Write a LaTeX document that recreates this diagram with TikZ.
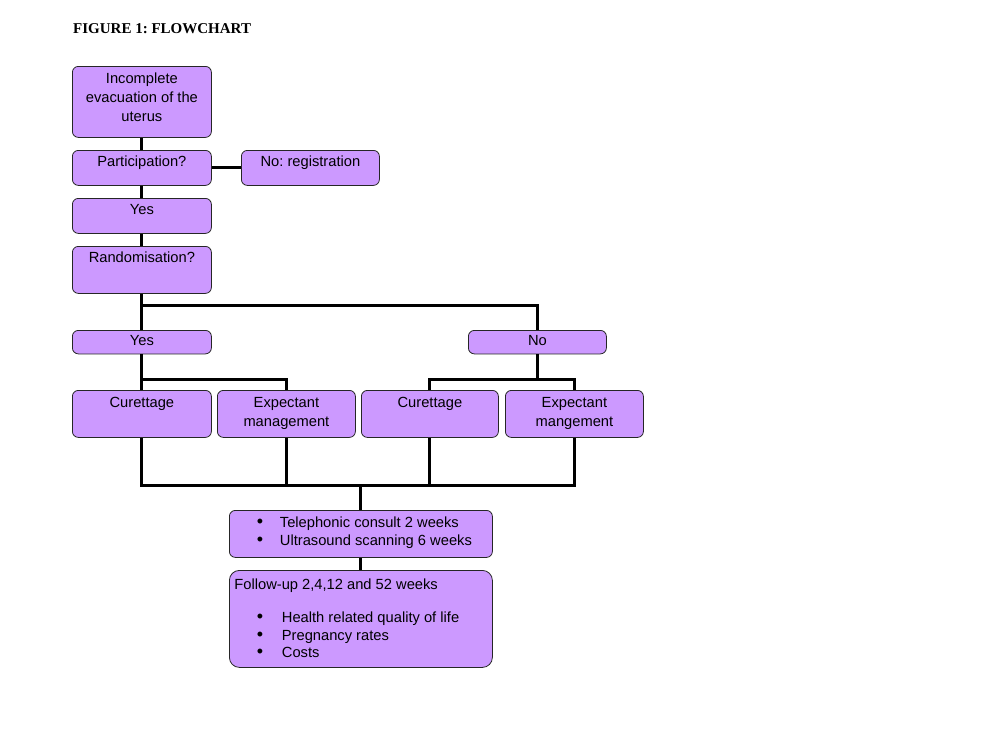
\documentclass[tikz,border=0pt]{standalone}
\usepackage{fontspec}
\setmainfont{Liberation Sans}
\newfontfamily\titlefont{Liberation Serif}
\frenchspacing
\definecolor{boxfill}{RGB}{204,153,255}
\newcommand\bxc[4][16.5pt]{\parbox[b][#3][t]{#2}{\centering\rule{0pt}{#1}#4\par}}
\newcommand\bul{{\fontsize{18}{18}\selectfont\textbullet}}
\tikzset{
  box/.style={draw=black!85, line width=0.8pt, fill=boxfill, rounded corners=6pt,
    inner sep=0pt, anchor=north west, font=\fontsize{14.7}{19}\selectfont},
  link/.style={line width=3pt, draw=black},
}
\begin{document}
\begin{tikzpicture}[x=1pt,y=-1pt]
\useasboundingbox (0,0) rectangle (1008,745);
\node[anchor=base west, inner sep=0pt, font=\titlefont\bfseries\fontsize{15}{17}\selectfont] (title) at (73,33) {FIGURE 1: FLOWCHART};

\node[box] (inc)   at (72,66)  {\bxc[17pt]{139pt}{71pt}{Incomplete\\evacuation of the\\uterus}};
\node[box] (part)  at (72,150) {\bxc[16pt]{139pt}{35pt}{Participation?}};
\node[box] (noreg) at (241,150){\bxc[16pt]{138pt}{35pt}{No: registration}};
\node[box] (yes1)  at (72,198) {\bxc[16pt]{139pt}{35pt}{Yes}};
\node[box] (rand)  at (72,246) {\bxc[16pt]{139pt}{47pt}{Randomisation?}};
\node[box] (yes2)  at (72,330) {\bxc[15pt]{139pt}{23.5pt}{Yes}};
\node[box] (no2)   at (468,330){\bxc[15pt]{138pt}{23.5pt}{No}};
\node[box] (cur1)  at (72,390) {\bxc[17pt]{139pt}{47pt}{Curettage}};
\node[box] (exp1)  at (217,390){\bxc[17pt]{138pt}{47pt}{Expectant\\management}};
\node[box] (cur2)  at (361,390){\bxc[17pt]{137pt}{47pt}{Curettage}};
\node[box] (exp2)  at (505,390){\bxc[17pt]{138pt}{47pt}{Expectant\\mangement}};
\node[box] (tel)   at (229,510){\parbox[b][47pt][t]{263pt}{\fontsize{14.7}{18}\selectfont\raggedright
  \rule{0pt}{16.7pt}\hspace*{27.5pt}\makebox[23pt][l]{\bul}Telephonic consult 2 weeks\\
  \hspace*{27.5pt}\makebox[23pt][l]{\bul}Ultrasound scanning 6 weeks\par}};
\node[box, rounded corners=10pt] (fol) at (229,570){\parbox[b][97pt][t]{263pt}{\fontsize{14.7}{17.5}\selectfont\raggedright
  \rule{0pt}{19pt}\hspace*{5pt}Follow-up 2,4,12 and 52 weeks\\[16pt]
  \hspace*{27.5pt}\makebox[25pt][l]{\bul}Health related quality of life\\
  \hspace*{27.5pt}\makebox[25pt][l]{\bul}Pregnancy rates\\
  \hspace*{27.5pt}\makebox[25pt][l]{\bul}Costs\par}};

\draw[link] (inc.south) -- (part.north);
\draw[link] (part.east) -- (noreg.west);
\draw[link] (part.south) -- (yes1.north);
\draw[link] (yes1.south) -- (rand.north);
\draw[link] (rand.south) -- (yes2.north);
\draw[link] (rand.south) ++(0,12) -| (no2.north);
\draw[link] (yes2.south) -- (cur1.north);
\draw[link] (yes2.south) ++(0,25) -| (exp1.north);
\draw[link] (no2.south) -- ++(0,25) coordinate (nsplit);
\draw[link] (cur2.north) |- (nsplit) -| (exp2.north);
\coordinate (merge) at (360.5,485);
\draw[link] (cur1.south) |- (exp2.south |- merge) -- (exp2.south);
\draw[link] (exp1.south) -- (exp1.south |- merge);
\draw[link] (cur2.south) -- (cur2.south |- merge);
\draw[link] (tel.north) -- (tel.north |- merge);
\draw[link] (tel.south) -- (fol.north);
\end{tikzpicture}
\end{document}
